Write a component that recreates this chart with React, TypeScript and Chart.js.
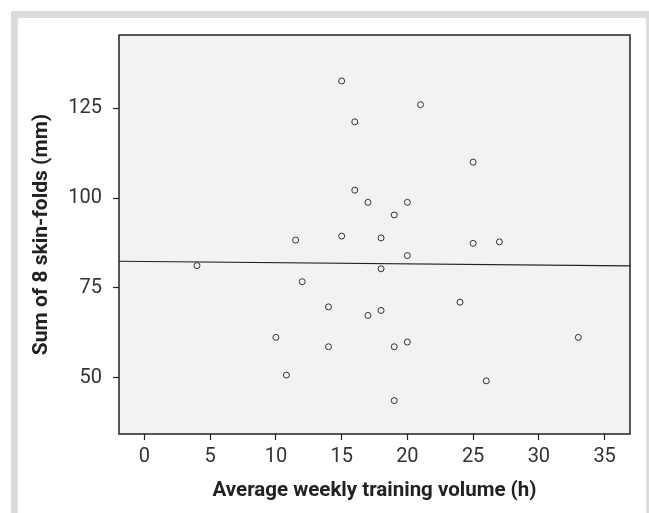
import React, { useEffect, useRef } from "react";
import { Chart, registerables } from "chart.js";

Chart.register(...registerables);

// Data
const trainingHours = [4, 10, 10.8, 11.5, 12, 14, 14, 15, 15, 16, 16, 17, 17, 18, 18, 18, 19, 19, 19, 20, 20, 20, 21, 24, 25, 25, 26, 27, 33];
const skinfoldSum = [81.2, 61.2, 50.7, 88.3, 76.7, 69.7, 58.6, 132.6, 89.4, 121.2, 102.2, 98.8, 67.3, 88.9, 80.3, 68.7, 95.3, 58.6, 43.6, 98.8, 84.0, 59.9, 126.0, 71.0, 110.0, 87.4, 49.1, 87.8, 61.2];
const xTickValues = [0, 5, 10, 15, 20, 25, 30, 35];
const yTickValues = [50, 75, 100, 125];
const xRange = [-1.93, 36.93];
const yRange = [34.3, 145.4];
const fitIntercept = 82.34;
const fitSlope = -0.0335;

const xTitle = "Average weekly training volume (h)";
const yTitle = "Sum of 8 skin-folds (mm)";

const plotFrame = {
  id: "plotFrame",
  beforeDraw(chart: any) {
    const { ctx, chartArea } = chart;
    const { left, top, right, bottom } = chartArea;
    ctx.save();
    ctx.fillStyle = "#f2f2f2";
    ctx.fillRect(left, top, right - left, bottom - top);
    ctx.restore();
  },
  afterDraw(chart: any) {
    const { ctx, chartArea } = chart;
    const { left, top, right, bottom } = chartArea;
    ctx.save();
    ctx.strokeStyle = "#222";
    ctx.lineWidth = 1.5;
    ctx.strokeRect(left, top, right - left, bottom - top);
    ctx.restore();
  },
};

export default function App() {
  const canvasRef = useRef<HTMLCanvasElement | null>(null);

  useEffect(() => {
    if (!canvasRef.current) return;
    const points = trainingHours.map((x, i) => ({ x, y: skinfoldSum[i] }));
    const fitLine = xRange.map((x) => ({ x, y: fitIntercept + fitSlope * x }));
    const tickFont = { family: "Roboto, 'Open Sans', sans-serif", size: 20 };
    const xTitleFont = { family: "Roboto, 'Open Sans', sans-serif", size: 20.5, weight: "bold" as const };
    const yTitleFont = { family: "Roboto, 'Open Sans', sans-serif", size: 21, weight: "bold" as const };

    const chart = new Chart(canvasRef.current, {
      type: "scatter",
      data: {
        datasets: [
          {
            type: "scatter",
            data: points,
            pointStyle: "circle",
            pointRadius: 3,
            pointBorderWidth: 1,
            pointBorderColor: "#333",
            pointBackgroundColor: "rgba(0,0,0,0)",
            borderColor: "#333",
            backgroundColor: "rgba(0,0,0,0)",
          },
          {
            type: "line",
            data: fitLine,
            borderColor: "#222",
            borderWidth: 1.2,
            pointRadius: 0,
            fill: false,
          } as any,
        ],
      },
      options: {
        animation: false,
        responsive: false,
        devicePixelRatio: 1,
        layout: { padding: { left: 0, top: 35, right: 19, bottom: 0 } },
        plugins: { legend: { display: false }, tooltip: { enabled: false } },
        scales: {
          x: {
            type: "linear",
            min: xRange[0],
            max: xRange[1],
            afterBuildTicks: (scale: any) => {
              scale.ticks = xTickValues.map((v) => ({ value: v }));
            },
            afterFit: (scale: any) => {
              scale.height = 79;
            },
            grid: { drawOnChartArea: false, drawTicks: true, tickLength: 6, color: "#222", tickColor: "#222", tickWidth: 1.2 },
            border: { display: false },
            ticks: { font: tickFont, color: "#333", padding: 5, maxRotation: 0 },
            title: { display: true, text: xTitle, font: xTitleFont, color: "#222", padding: { top: 0, bottom: 10 } },
          },
          y: {
            type: "linear",
            min: yRange[0],
            max: yRange[1],
            afterBuildTicks: (scale: any) => {
              scale.ticks = yTickValues.map((v) => ({ value: v }));
            },
            afterFit: (scale: any) => {
              scale.width = 119;
            },
            grid: { drawOnChartArea: false, drawTicks: true, tickLength: 6, color: "#222", tickColor: "#222", tickWidth: 1.2 },
            border: { display: false },
            ticks: { font: tickFont, color: "#333", padding: 11 },
            title: { display: true, text: yTitle, font: yTitleFont, color: "#222", padding: { top: 29, bottom: 0 } },
          },
        },
      },
      plugins: [plotFrame],
    });
    return () => chart.destroy();
  }, []);

  return (
    <div style={{ position: "fixed", left: 0, top: 0, width: 649, height: 513, background: "#fff", overflow: "hidden" }}>
      <div style={{ position: "absolute", left: 11, top: 11, width: 660, height: 540, background: "#dcdcdc" }} />
      <div style={{ position: "absolute", left: 18, top: 18, width: 628, height: 520, background: "#fff" }} />
      <canvas
        ref={canvasRef}
        width={649}
        height={513}
        style={{ position: "absolute", left: 0, top: 0, width: 649, height: 513 }}
      />
    </div>
  );
}
